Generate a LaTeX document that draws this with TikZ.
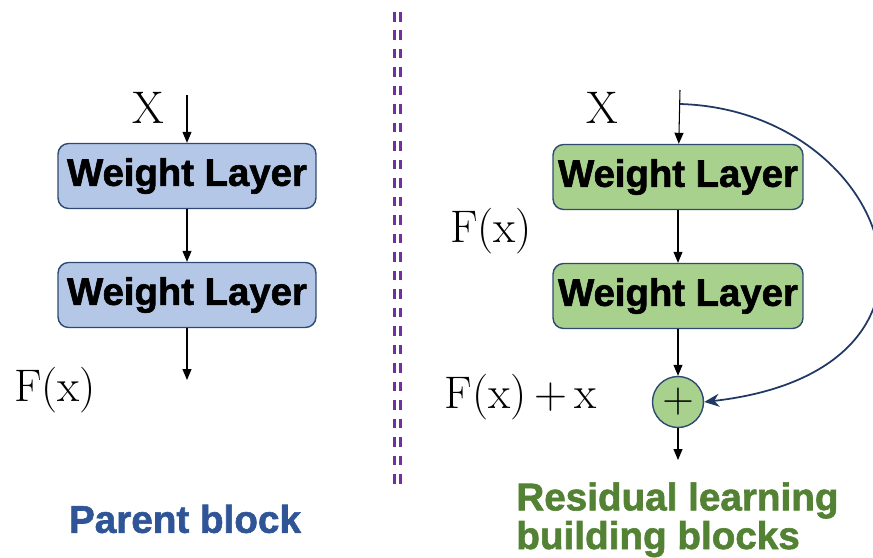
\documentclass[tikz,border=0pt]{standalone}
\usepackage{fontspec}
\newfontfamily\heavyfont{Liberation Sans}[BoldFeatures={FakeBold=1.6}]
\usetikzlibrary{arrows.meta,calc}

\definecolor{parentfill}{HTML}{B4C7E7}
\definecolor{resfill}{HTML}{A9D18E}
\definecolor{boxline}{HTML}{2E4A73}
\definecolor{parenttext}{HTML}{2F5597}
\definecolor{restext}{HTML}{548235}
\definecolor{splitline}{HTML}{7030A0}
\definecolor{skipline}{HTML}{203864}

\begin{document}
\begin{tikzpicture}[x=0.02cm,y=-0.02cm,
  layer/.style={draw=boxline,line width=0.8pt,rounded corners=6pt,minimum height=1.3cm,
    inner sep=0pt,font=\heavyfont\bfseries\fontsize{21.8}{22}\selectfont},
  hand/.style={inner sep=0pt,font=\fontsize{26}{26}\selectfont},
  title/.style={inner sep=0pt,font=\heavyfont\bfseries\fontsize{22}{22}\selectfont},
  flow/.style={-{Triangle[length=2.2mm,width=1.8mm]},line width=0.6pt}]
  \useasboundingbox (0,0) rectangle (873,558);

  % plain block
  \node[layer,fill=parentfill,minimum width=5.16cm] (L1) at (187,176) {Weight Layer};
  \node[layer,fill=parentfill,minimum width=5.16cm] (L2) at ($(L1)+(0,119)$) {Weight Layer};
  \coordinate (Lin) at ($(L1)+(0,-81)$);
  \coordinate (Lout) at ($(L2)+(0,85)$);
  \node[hand] (LX) at (148,108) {X};
  \node[hand] (LF) at (55,390) {F(x)};
  \node[title,text=parenttext] (LT) at (185,519) {Parent block};

  \draw[flow] (Lin) -- (L1);
  \draw[flow] (L1) -- (L2);
  \draw[flow] (L2) -- (Lout);

  % separator
  \draw[splitline,line width=1.6pt,dash pattern=on 0.19cm off 0.18cm] (394.5,12) -- (394.5,490);
  \draw[splitline,line width=1.6pt,dash pattern=on 0.19cm off 0.18cm] (400.5,12) -- (400.5,490);

  % residual block
  \node[layer,fill=resfill,minimum width=5cm] (R1) at (678,177) {Weight Layer};
  \node[layer,fill=resfill,minimum width=5cm] (R2) at ($(R1)+(0,119)$) {Weight Layer};
  \node[circle,draw=boxline,line width=0.8pt,fill=resfill,minimum size=1.02cm,inner sep=0pt,
    font=\fontsize{32}{32}\selectfont] (S) at ($(R2)+(0,106)$) {$+$};
  \coordinate (Rin) at (680,90);
  \coordinate (Rsplit) at (680,104);
  \coordinate (Rout) at ($(S)+(0,58)$);
  \node[hand] (RX) at (602,108) {X};
  \node[hand] (RF) at (491,231) {F(x)};
  \node[hand] (RS) at (521,397) {F(x)\,+\,x};
  \node[title,text=restext,align=left,anchor=north west] (RT) at (516,482) {Residual learning\\building blocks};

  \draw[flow] (Rin) -- (R1);
  \draw[flow] (R1) -- (R2);
  \draw[flow] (R2) -- (S);
  \draw[flow] (S) -- (Rout);
  \draw[skipline,line width=1pt,-{Stealth[length=3mm,width=2.6mm]}]
    (Rsplit) .. controls (890,110) and (985,370) .. (S.east);
\end{tikzpicture}
\end{document}
